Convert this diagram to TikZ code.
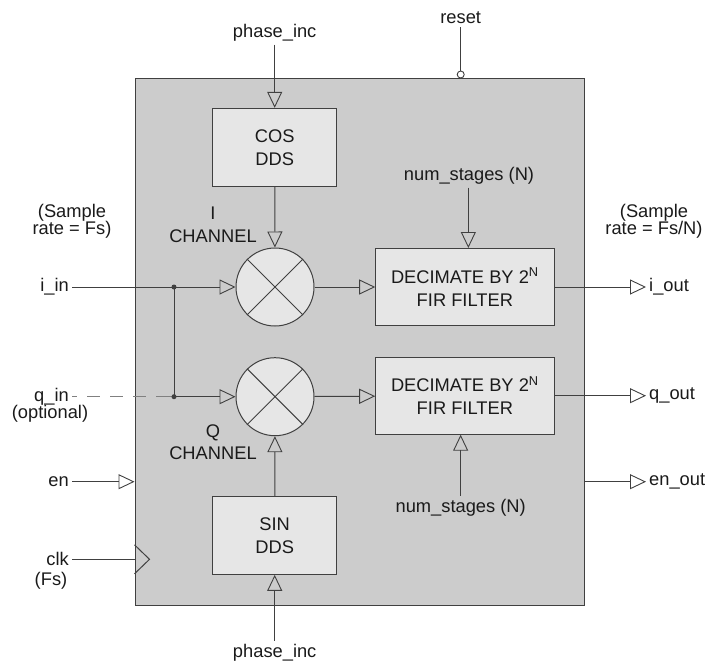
\documentclass[tikz,border=0pt]{standalone}
\usepackage{fontspec}
\setmainfont{Liberation Sans}
\usetikzlibrary{arrows.meta,calc,positioning}

\definecolor{corefill}{HTML}{CCCCCC}
\definecolor{blockfill}{HTML}{E6E6E6}
\definecolor{wirecol}{HTML}{404040}
\definecolor{txtcol}{HTML}{1A1A1A}

\newcommand{\lblfont}{\fontsize{18.3}{17.5}\selectfont}
\newcommand{\blkfont}{\fontsize{18.3}{23}\selectfont}

\tikzset{
  wire/.style={draw=wirecol, line width=1pt},
  sig/.style={wire, -{Triangle[open, length=16pt, width=15pt, line width=0.9pt]}},
  core/.style={draw=wirecol, fill=corefill, line width=1pt,
    minimum width=449.7pt, minimum height=527pt},
  block/.style={draw=wirecol, fill=blockfill, line width=1pt, align=center,
    font=\blkfont, text=txtcol, minimum width=124pt, minimum height=77.7pt},
  filt/.style={block, minimum width=178.3pt, minimum height=77pt},
  mixer/.style={circle, draw=wirecol, fill=blockfill, line width=1pt,
    minimum size=78pt, inner sep=0pt},
  lbl/.style={font=\lblfont, text=txtcol, inner sep=3pt, align=center},
  pin/.style={circle, draw=wirecol, fill=white, line width=0.9pt,
    minimum size=7pt, inner sep=0pt}
}

\begin{document}
\begin{tikzpicture}[x=1pt,y=-1pt]
  \useasboundingbox (0,0) rectangle (728,662);

  % main block and sub blocks
  \node[core] (dut) at (359.85,341.5) {};
  \node[block] (cos) at (274.7,147.2) {COS\\DDS};
  \node[block] (sin) at (274.7,535.5) {SIN\\DDS};
  \node[mixer] (mixi) at (275,287) {};
  \node[mixer] (mixq) at (275,396.7) {};
  \node[filt] (firi) at (464.85,287) {DECIMATE BY 2\textsuperscript{N}\\FIR FILTER};
  \node[filt] (firq) at (464.85,395.7) {DECIMATE BY 2\textsuperscript{N}\\FIR FILTER};

  \foreach \m in {mixi,mixq}
    \draw[wire] (\m.north east) -- (\m.south west) (\m.north west) -- (\m.south east);

  % labels
  \node[lbl] (phtop) at (274.7,33) {phase\_inc};
  \node[lbl] (phbot) at (274.7,652.5) {phase\_inc};
  \node[lbl] (reset) at (460.7,18) {reset};
  \node[lbl] (nstop) at (469,176) {num\_stages (N)};
  \node[lbl] (nsbot) at (460.7,507.7) {num\_stages (N)};
  \node[lbl] (ratein) at (72,221.5) {(Sample\\rate = Fs)};
  \node[lbl] (rateout) at (654,221.5) {(Sample\\rate = Fs/N)};
  \node[lbl, font=\fontsize{18.3}{23}\selectfont] (ich) at (213,224.5) {I\\CHANNEL};
  \node[lbl, font=\fontsize{18.3}{22}\selectfont] (qch) at (213,442) {Q\\CHANNEL};

  \node[lbl, anchor=east] (iin) at (72,287) {i\_in};
  \node[lbl, anchor=east] (qin) at (72,396.7) {q\_in};
  \node[lbl] (opt) at (50,413.5) {(optional)};
  \node[lbl, anchor=east] (en) at (72,481.7) {en};
  \node[lbl, anchor=east] (clk) at (72,559.3) {clk};
  \node[lbl] (fs) at (51,581) {(Fs)};

  \coordinate (iout) at (646,287);
  \coordinate (qout) at (646,395.7);
  \coordinate (enout) at (646,481.7);
  \node[lbl, anchor=west] at (iout) {i\_out};
  \node[lbl, anchor=west] at (qout) {q\_out};
  \node[lbl, anchor=west] at (enout) {en\_out};

  \coordinate (ji) at (174,287);
  \coordinate (jq) at (174,396.7);
  \coordinate (clkpin) at (dut.west |- clk);

  % connections
  \draw[sig] (phtop) -- (cos);
  \draw[sig] (cos) -- (mixi);
  \draw[sig] (phbot) -- (sin);
  \draw[sig] (sin) -- (mixq);
  \draw[sig] (nstop.south -| firi.north) ++(3.5,0) coordinate (nst) -- (nst |- firi.north);
  \draw[sig] (nsbot.north -| firq.south) ++(-4.2,0) coordinate (nsb) -- (nsb |- firq.south);
  \draw[sig] (mixi) -- (firi);
  \draw[sig] (mixq) -- (firq);
  \draw[wire] (iin) -- (ji);
  \draw[sig] (ji) -- (mixi);
  \draw[wire, draw=gray, dash pattern=on 5pt off 10pt on 13pt off 10pt on 13pt off 10pt on 13pt off 10pt on 30pt] (qin) -- (jq);
  \draw[sig] (jq) -- (mixq);
  \draw[wire] (ji) -- (jq);
  \fill[wirecol] (ji) circle (2.5pt) (jq) circle (2.5pt);
  \draw[sig] (en) -- (dut.west |- en);
  \draw[wire] (clk) -- (clkpin);
  \draw[wire] ($(clkpin)+(0,-14.5)$) -- ($(clkpin)+(15,0)$) -- ($(clkpin)+(0,14.5)$);
  \node[pin] (rstpin) at (460.7,74.5) {};
  \draw[wire] (reset) -- (rstpin);
  \draw[sig] (firi) -- (iout);
  \draw[sig] (firq) -- (qout);
  \draw[sig] (dut.east |- enout) -- (enout);
\end{tikzpicture}
\end{document}
